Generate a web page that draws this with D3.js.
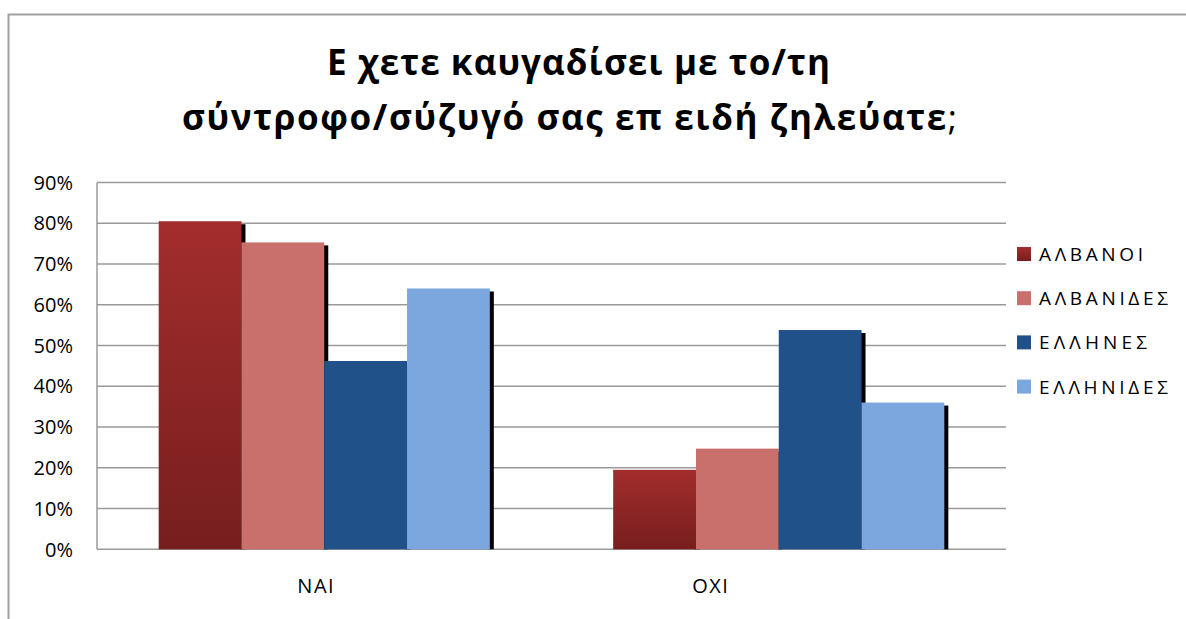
<!DOCTYPE html>
<html>
<head>
<meta charset="utf-8">
<script src="https://cdn.jsdelivr.net/npm/d3@7"></script>
<style>
  body { margin: 0; background: #fff; }
  text { font-family: "Open Sans", "DejaVu Sans", sans-serif; fill: #000; }
</style>
</head>
<body>
<svg id="chart"></svg>
<script>
// chart data
var categories = ["ΝΑΙ", "ΟΧΙ"];
var seriesNames = ["ΑΛΒΑΝΟΙ", "ΑΛΒΑΝΙΔΕΣ", "ΕΛΛΗΝΕΣ", "ΕΛΛΗΝΙΔΕΣ"];
var naiValues = [0.805, 0.753, 0.462, 0.640];
var oxiValues = [0.195, 0.247, 0.538, 0.360];
var yTicks = [0, 0.1, 0.2, 0.3, 0.4, 0.5, 0.6, 0.7, 0.8, 0.9];
var titleLines = ["Ε χετε καυγαδίσει με το/τη", "σύντροφο/σύζυγό σας επ ειδή ζηλεύατε"];

var seriesColors = ["#9b2a2a", "#c9706d", "#215189", "#7ba7de"];

var table = categories.map(function(c, i) {
  var vals = i === 0 ? naiValues : oxiValues;
  return { cat: c, values: seriesNames.map(function(s, j) { return { name: s, value: vals[j] }; }) };
});

var svgWidth = 1186, svgHeight = 619;
var plot = { left: 97, right: 1006, top: 182.5, bottom: 549.3 };

var svg = d3.select("#chart")
  .attr("width", svgWidth)
  .attr("height", svgHeight);

// gradient for the first series
var defs = svg.append("defs");
var grad = defs.append("linearGradient")
  .attr("id", "albGrad")
  .attr("x1", 0).attr("y1", 0).attr("x2", 0).attr("y2", 1);
grad.append("stop").attr("offset", "0%").attr("stop-color", "#a32d2d");
grad.append("stop").attr("offset", "100%").attr("stop-color", "#771e1e");

function fillFor(i) { return i === 0 ? "url(#albGrad)" : seriesColors[i]; }

// outer chart border
svg.append("path")
  .attr("d", "M8.5," + svgHeight + " V14.5 H" + svgWidth)
  .attr("fill", "none")
  .attr("stroke", "#a0a0a0")
  .attr("stroke-width", 2);

// scales
var x0 = d3.scaleBand()
  .domain(categories)
  .range([plot.left, plot.right]);

var x1 = d3.scaleBand()
  .domain(seriesNames)
  .range([0, x0.bandwidth()])
  .paddingOuter(0.745);

var y = d3.scaleLinear()
  .domain([0, 0.9])
  .range([plot.bottom, plot.top]);

// gridlines
svg.append("g")
  .selectAll("line")
  .data(yTicks)
  .enter()
  .append("line")
  .attr("x1", plot.left)
  .attr("x2", plot.right)
  .attr("y1", d => y(d))
  .attr("y2", d => y(d))
  .attr("stroke", "#9a9a9a")
  .attr("stroke-width", 1.5);

// left axis line
svg.append("line")
  .attr("x1", plot.left).attr("x2", plot.left)
  .attr("y1", plot.top).attr("y2", plot.bottom)
  .attr("stroke", "#9a9a9a")
  .attr("stroke-width", 1.5);

// y tick labels
svg.append("g")
  .selectAll("text")
  .data(yTicks)
  .enter()
  .append("text")
  .attr("x", 73)
  .attr("y", d => y(d))
  .attr("dy", "0.36em")
  .attr("text-anchor", "end")
  .style("font-size", "20px")
  .text(d3.format(".0%"));

// bars
var groups = svg.append("g")
  .selectAll("g")
  .data(table)
  .enter()
  .append("g")
  .attr("transform", d => `translate(${x0(d.cat)},0)`);

groups.selectAll("rect.shadow")
  .data(d => d.values)
  .enter()
  .append("rect")
  .attr("class", "shadow")
  .attr("x", d => x1(d.name) + x1.bandwidth() - 1)
  .attr("y", d => y(d.value) + 3)
  .attr("width", 5)
  .attr("height", d => plot.bottom - y(d.value) - 3)
  .attr("fill", "#000");

groups.each(function() {
  var g = d3.select(this);
  g.selectAll("rect.bar")
    .data(g.datum().values)
    .enter()
    .append("rect")
    .attr("class", "bar")
    .attr("x", d => x1(d.name))
    .attr("y", d => y(d.value))
    .attr("width", x1.bandwidth())
    .attr("height", d => plot.bottom - y(d.value))
    .attr("fill", (d, i) => fillFor(i));
});

// category labels
var labelShift = [-8, -68];
svg.append("g")
  .selectAll("text")
  .data(categories)
  .enter()
  .append("text")
  .attr("x", (d, i) => x0(d) + x0.bandwidth() / 2 + labelShift[i])
  .attr("y", 593)
  .attr("text-anchor", "middle")
  .style("font-size", "20px")
  .style("letter-spacing", "1.5px")
  .text(d => d);

// legend
var legendWidths = [104, 129, 108, 129];
var legend = svg.append("g")
  .selectAll("g")
  .data(seriesNames)
  .enter()
  .append("g")
  .attr("transform", (d, i) => `translate(1017, ${247 + i * 44.2})`);

legend.append("rect")
  .attr("width", 14)
  .attr("height", 14)
  .attr("fill", (d, i) => fillFor(i));

legend.append("text")
  .attr("x", 22)
  .attr("y", 14)
  .attr("textLength", (d, i) => legendWidths[i])
  .attr("lengthAdjust", "spacing")
  .style("font-size", "19px")
  .text(d => d);

// title
var t1 = svg.append("text")
  .attr("x", 327)
  .attr("y", 75)
  .attr("textLength", 503)
  .attr("lengthAdjust", "spacing")
  .style("font-size", "35px")
  .style("font-weight", "bold")
  .text(titleLines[0]);

var t2 = svg.append("text")
  .attr("x", 182)
  .attr("y", 130)
  .attr("textLength", 775)
  .attr("lengthAdjust", "spacing")
  .style("font-size", "35px")
  .style("font-weight", "bold");
t2.append("tspan").text(titleLines[1]);
t2.append("tspan").style("font-weight", "normal").text(";");
</script>
</body>
</html>
